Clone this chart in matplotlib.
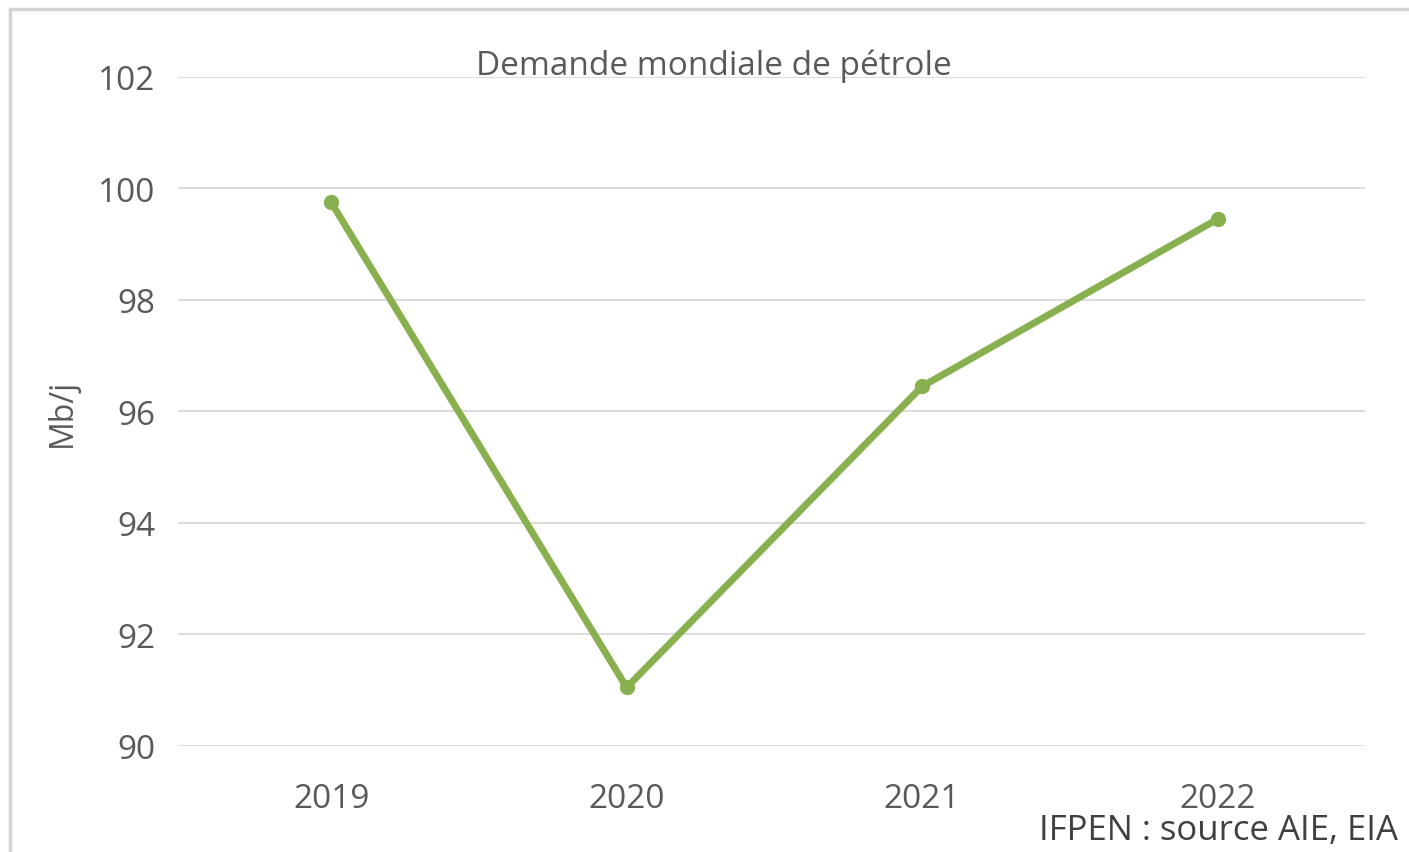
import matplotlib.pyplot as plt
from matplotlib.patches import Rectangle

years = ["2019", "2020", "2021", "2022"]
demand = [99.75, 91.05, 96.45, 99.45]
yticks = [90, 92, 94, 96, 98, 100, 102]

plt.rcParams['font.family'] = ['Open Sans', 'DejaVu Sans']

fig = plt.figure(figsize=(14.09, 8.53), dpi=100)
fig.patches.append(Rectangle((0.007, -0.01), 1.1, 0.998, transform=fig.transFigure,
                             fill=False, edgecolor='#d4d4d4', linewidth=2.5))

ax = fig.add_axes([0.126, 0.1243, 0.843, 0.7843])
x = range(len(years))
ax.plot(x, demand, color='#88b04e', linewidth=5, marker='o', markersize=10,
        solid_capstyle='round')

ax.set_xlim(-0.52, 3.5)
ax.set_ylim(90, 102)
ax.set_yticks(yticks)
ax.set_xticks(list(x))
ax.set_xticklabels(years)
ax.grid(axis='y', color='#d9d9d9', linewidth=1.3)
ax.set_axisbelow(True)
for s in ax.spines.values():
    s.set_visible(False)
ax.tick_params(length=0, labelsize=24, labelcolor='#595959')
ax.tick_params(axis='y', pad=16)
ax.tick_params(axis='x', pad=26)
ax.set_ylabel('Mb/j', fontsize=23, color='#595959', labelpad=14)

fig.text(0.507, 0.922, 'Demande mondiale de pétrole', ha='center', va='center',
         fontsize=24, color='#595959')
fig.text(0.992, 0.026, 'IFPEN : source AIE, EIA', ha='right', va='center',
         fontsize=25, color='#404040')

fig.savefig('out.png', dpi=100)
